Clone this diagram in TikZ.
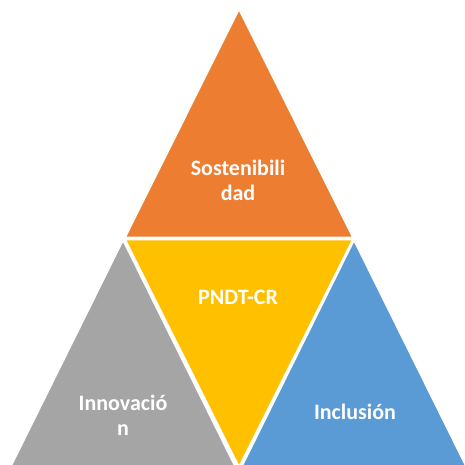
\documentclass[tikz,border=0pt]{standalone}
\usepackage{fontspec}
\setmainfont{Carlito}
\definecolor{cOrange}{HTML}{ED7D31}
\definecolor{cGray}{HTML}{A5A5A5}
\definecolor{cBlue}{HTML}{5B9BD5}
\definecolor{cYellow}{HTML}{FFC000}
\begin{document}
\begin{tikzpicture}[x=1pt,y=-1pt,
  tri/.style={draw=white,line width=1.8pt,line join=miter},
  lbl/.style={text=white,font=\bfseries\fontsize{22}{25}\selectfont,align=center,inner sep=0pt}]
\useasboundingbox (0,0) rectangle (464,465);
\begin{scope}
\clip (0,0) rectangle (464,465);
\fill[white] (0,0) rectangle (464,465);
\filldraw[tri,fill=cOrange] (239,9) -- (125,237.5) -- (353,237.5) -- cycle;
\filldraw[tri,fill=cGray] (123,240) -- (9,470) -- (237,470) -- cycle;
\filldraw[tri,fill=cBlue] (354,240) -- (240,470) -- (468,470) -- cycle;
\filldraw[tri,fill=cYellow] (125,239.5) -- (353,239.5) -- (239,467) -- cycle;
\end{scope}
\node[lbl] (sost) at (238,180) {Sostenibili\\dad};
\node[lbl] (pndt) at (238,297) {PNDT-CR};
\node[lbl] (innov) at (123,415) {Innovació\\n};
\node[lbl] (incl) at (355,412) {Inclusión};
\end{tikzpicture}
\end{document}
